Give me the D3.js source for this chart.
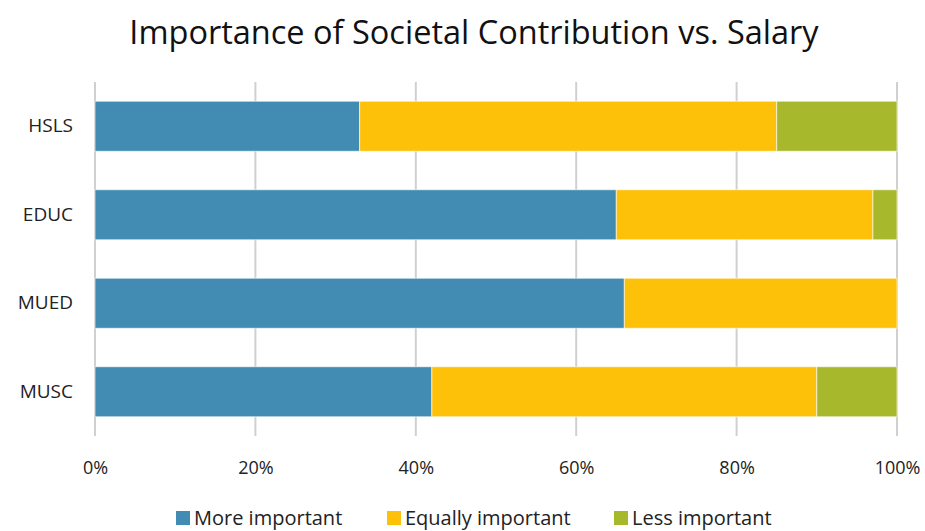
<!DOCTYPE html>
<html>
<head>
<meta charset="utf-8">
<script src="https://cdn.jsdelivr.net/npm/d3@7"></script>
<style>
  html, body { margin: 0; padding: 0; background: #fff; }
  svg { display: block; font-family: "Open Sans", "Noto Sans", sans-serif; }
</style>
</head>
<body>
<svg id="chart" width="925" height="531"></svg>
<script>
// Survey groups, top to bottom
const categories = ["HSLS", "EDUC", "MUED", "MUSC"];
// Share of respondents (%) per response
const moreImportant    = [33, 65, 66, 42];
const equallyImportant = [52, 32, 34, 48];
const lessImportant    = [15, 3, 0, 10];
const seriesNames = ["More important", "Equally important", "Less important"];
const seriesColors = ["#428bb3", "#fdc10a", "#a8b82c"];
const tickValues = [0, 20, 40, 60, 80, 100];

const svg = d3.select("#chart");
const margin = { top: 82, right: 28, bottom: 95, left: 95 };
const W = 925, H = 531;
const innerW = W - margin.left - margin.right;
const innerH = H - margin.top - margin.bottom;

const rows = categories.map((c, i) => ({
  category: c,
  "More important": moreImportant[i],
  "Equally important": equallyImportant[i],
  "Less important": lessImportant[i]
}));
const stacked = d3.stack().keys(seriesNames)(rows);

const x = d3.scaleLinear().domain([0, 100]).range([0, innerW]);
const y = d3.scaleBand().domain(categories).range([0, innerH]).paddingInner(0.435).paddingOuter(0.2175);
const color = d3.scaleOrdinal().domain(seriesNames).range(seriesColors);

// Title
svg.append("text")
  .attr("x", 474).attr("y", 44)
  .attr("text-anchor", "middle")
  .attr("font-size", 32.5)
  .attr("fill", "#111")
  .text("Importance of Societal Contribution vs. Salary");

const g = svg.append("g").attr("transform", `translate(${margin.left},${margin.top})`);

// Vertical gridlines
g.append("g").selectAll("line").data(tickValues).join("line")
  .attr("x1", d => x(d)).attr("x2", d => x(d))
  .attr("y1", 0).attr("y2", innerH)
  .attr("stroke", "#d0d0d0").attr("stroke-width", 2);

// Stacked bars
g.append("g").selectAll("g").data(stacked).join("g")
  .attr("fill", d => color(d.key))
  .selectAll("rect").data(d => d.filter(p => p[1] - p[0] > 0)).join("rect")
  .attr("x", d => x(d[0]))
  .attr("y", d => y(d.data.category))
  .attr("width", d => x(d[1]) - x(d[0]))
  .attr("height", y.bandwidth())
  .attr("stroke", "rgba(255,255,255,0.6)")
  .attr("stroke-width", 1);

// X axis labels
const xAxis = d3.axisBottom(x).tickValues(tickValues).tickFormat(d => d + "%").tickSize(0).tickPadding(25);
const xa = g.append("g").attr("transform", `translate(0,${innerH})`).call(xAxis);
xa.select(".domain").remove();
xa.selectAll("text").attr("font-size", 18).attr("fill", "#222").attr("font-family", "\"Open Sans\", sans-serif");

// Y axis labels
const yAxis = d3.axisLeft(y).tickSize(0).tickPadding(22);
const ya = g.append("g").call(yAxis);
ya.select(".domain").remove();
ya.selectAll("text").attr("font-size", 19).attr("fill", "#222").attr("font-family", "\"Open Sans\", sans-serif");

// Legend
const legendX = [176, 387, 614];
const legend = svg.append("g").selectAll("g").data(seriesNames).join("g")
  .attr("transform", (d, i) => `translate(${legendX[i]},511)`);
legend.append("rect").attr("width", 14).attr("height", 14).attr("fill", d => color(d));
legend.append("text")
  .attr("x", 18).attr("y", 7).attr("dy", "0.35em")
  .attr("font-size", 20).attr("fill", "#222")
  .text(d => d);
</script>
</body>
</html>
